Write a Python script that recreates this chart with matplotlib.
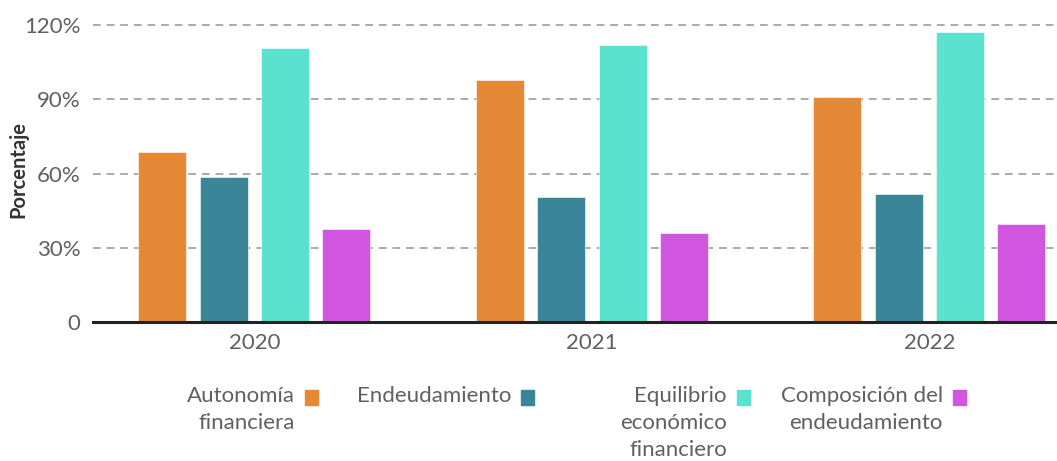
import numpy as np
import matplotlib.pyplot as plt
from matplotlib.patches import Rectangle

plt.rcParams['font.family'] = ['Lato', 'DejaVu Sans']

years = ['2020', '2021', '2022']
labels = ['Autonomía\nfinanciera', 'Endeudamiento',
          'Equilibrio\neconómico\nfinanciero', 'Composición del\nendeudamiento']
colors = ['#E68937', '#3A8597', '#5AE1CF', '#D056E0']

autonomia = [68.6, 97.9, 90.9]
endeudamiento = [58.7, 50.4, 51.7]
equilibrio = [110.6, 112.0, 117.1]
composicion = [37.5, 35.8, 39.6]

yticks = [0, 30, 60, 90, 120]
ytick_labels = ['0', '30%', '60%', '90%', '120%']

# %% figure / axes placement (pixels of the 1057x461 target)
W, H = 1057, 461
px_per_pct = 2.474
y0 = 322
ytop = 122
fig = plt.figure(figsize=(W / 100, H / 100), dpi=100)
ax = fig.add_axes([93 / W, 1 - y0 / H, 1 - 93 / W, ytop * px_per_pct / H])

x = np.arange(len(years))
step, width = 0.1817, 0.142
for i, (vals, c) in enumerate(zip([autonomia, endeudamiento, equilibrio, composicion], colors)):
    ax.bar(x + (i - 1.5) * step, vals, width, color=c,
           edgecolor='white', linewidth=0.4, zorder=3)

ax.set_xlim(-0.478, 2.378)
ax.set_ylim(0, ytop)
ax.set_yticks(yticks, ytick_labels)
ax.set_xticks(x, years)
ax.tick_params(axis='both', length=0, labelsize=16, colors='#606060')
ax.tick_params(axis='y', pad=9)
ax.tick_params(axis='x', pad=8)

ax.yaxis.grid(True, linestyle=(0, (4, 3)), color='#aaaaaa', linewidth=1.4, zorder=0)
ax.set_axisbelow(True)
for s in ['top', 'right', 'left']:
    ax.spines[s].set_visible(False)
ax.spines['bottom'].set_color('#222222')
ax.spines['bottom'].set_linewidth(2.2)
ax.spines['bottom'].set_zorder(4)

fig.text(18 / W, 1 - 170 / H, 'Porcentaje', rotation=90, ha='center', va='center',
         fontsize=14.5, fontweight='bold', color='#333333')

# %% legend: text right-aligned, square to the right, columns 216 px apart
for k, (lab, c) in enumerate(zip(labels, colors)):
    right = 318 + 216 * k
    fig.patches.append(Rectangle(((right - 13) / W, 1 - 405 / H), 13 / W, 15 / H,
                                 transform=fig.transFigure, color=c))
    fig.text((right - 23) / W, 1 - 386 / H, lab, ha='right', va='top',
             multialignment='right', fontsize=16,
             color='#606060', linespacing=1.45)

fig.savefig('out.png', dpi=100)
